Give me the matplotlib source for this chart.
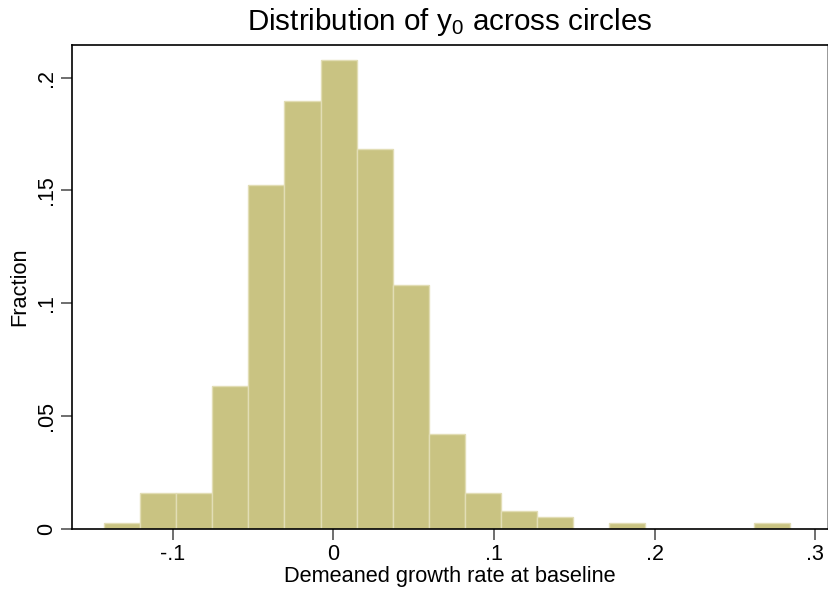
import numpy as np
import matplotlib
matplotlib.use('Agg')
import matplotlib.pyplot as plt

plt.rcParams['font.family'] = ['Liberation Sans', 'DejaVu Sans']
plt.rcParams['mathtext.fontset'] = 'custom'
plt.rcParams['mathtext.rm'] = 'Liberation Sans'
plt.rcParams['mathtext.it'] = 'Liberation Sans:italic'

# Histogram bins (19 equal bins) and fraction per bin
bin_start = -0.1428
bin_width = 0.02247
fractions = [0.0026, 0.0158, 0.0158, 0.0632, 0.1526, 0.1895, 0.2079, 0.1684,
             0.1079, 0.0421, 0.0158, 0.0079, 0.0053, 0.0, 0.0026, 0.0, 0.0,
             0.0, 0.0026]

xticks = [-0.1, 0, 0.1, 0.2, 0.3]
xticklabels = ['-.1', '0', '.1', '.2', '.3']
yticks = [0, 0.05, 0.1, 0.15, 0.2]
yticklabels = ['0', '.05', '.1', '.15', '.2']

fig = plt.figure(figsize=(8.29, 5.93), dpi=100)
ax = fig.add_axes([72/829, 1-528.7/593, (828.3-72)/829, (528.7-45)/593])

lefts = bin_start + bin_width*np.arange(len(fractions))
ax.bar(lefts, fractions, width=bin_width, align='edge', color='#c9c382',
       edgecolor='#e2ddb5', linewidth=1.0)

ax.set_xlim(-0.1627, 0.3081)
ax.set_ylim(0, 0.2145)
ax.set_xticks(xticks)
ax.set_xticklabels(xticklabels)
ax.set_yticks(yticks)
ax.set_yticklabels(yticklabels, rotation=90, va='center')
ax.tick_params(axis='both', direction='out', length=8, width=1.2, color='#555555',
               labelsize=15.5, pad=3)

for s in ax.spines.values():
    s.set_linewidth(1.2)
ax.spines['right'].set_color('#888888')

ax.set_xlabel('Demeaned growth rate at baseline', fontsize=15.7, labelpad=1)
ax.set_ylabel('Fraction', fontsize=15.7, labelpad=4)
fig.text(450/829, 1-22/593, 'Distribution of y$_{\\mathregular{0}}$ across circles',
         ha='center', va='center', fontsize=21.3)

fig.savefig('out.png', dpi=100)
